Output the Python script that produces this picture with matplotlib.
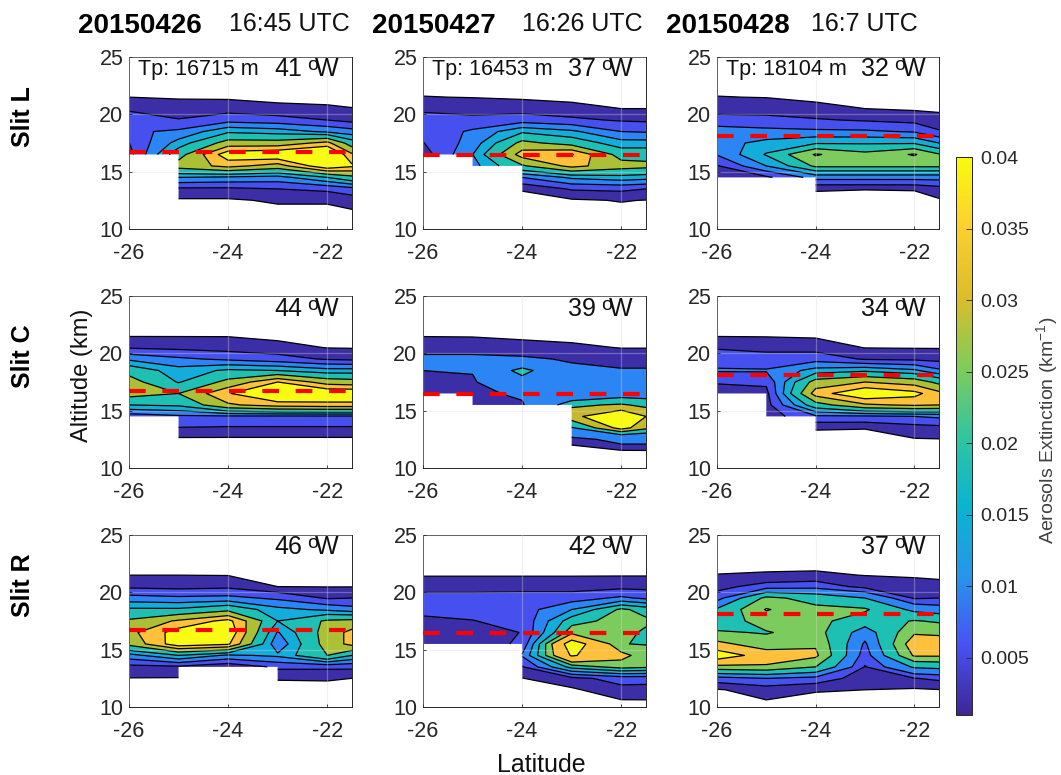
import numpy as np
import matplotlib
matplotlib.use('Agg')
import matplotlib.pyplot as plt
from matplotlib.cm import ScalarMappable
from matplotlib.colors import LinearSegmentedColormap, Normalize

plt.rcParams['font.family'] = ['Liberation Sans', 'DejaVu Sans']
plt.rcParams['mathtext.fontset'] = 'custom'
plt.rcParams['mathtext.rm'] = 'Liberation Sans'

n = np.nan
lats = [-26, -25, -24, -23, -22, -21.5]
alts = [22.5, 21.5, 20.5, 19.5, 18.5, 17.5, 16.5, 15.5, 14.5, 13.5, 12.5, 11.5, 10.5]

# extinction in 1e-3 km-1, one line per latitude, altitude going down
slit_l_0426 = [
    [0, 1.0, 4.4, 7, 9, 4.9, 3, n, n, n, n, n, n],
    [0, .7, 2.5, 5.3, 11, 17, 24, 30, 15, 4, .5, 0, 0],
    [0, .5, 3, 8, 19, 30, 44, 36, 14, 4, .5, 0, 0],
    [0, .2, 1.8, 7, 17.5, 30, 46, 31, 13, 5, 1.5, 0, 0],
    [0, 0, 1.5, 5, 14, 36, 50, 45, 20, 6, 1.5, 0, 0],
    [0, 0, 1.1, 3.5, 12, 23, 35, 41, 25, 8, 2.5, .6, 0],
]
slit_l_0427 = [
    [0, 1.1, 4, 7, 6.5, 4.8, 2.5, n, n, n, n, n, n],
    [0, .9, 3, 6.5, 10.8, 12, 14.9, 13, n, n, n, n, n],
    [0, .5, 3, 7.5, 19, 29, 37, 26, 10, 1.2, .2, 0, 0],
    [0, .2, 2, 6, 16, 24, 40.5, 36, 16, 5.5, .5, 0, 0],
    [0, 0, 1, 4.5, 10, 17, 24, 30, 18, 6, 1.2, 0, 0],
    [0, 0, 1, 4.2, 9.5, 17, 24, 29, 17, 5, .9, 0, 0],
]
slit_l_0428 = [
    [0, 1.1, 3.5, 6.5, 13, 13, 10.3, 4.5, 2.5, n, n, n, n],
    [0, .9, 3, 6.5, 11.5, 16.5, 20.5, 15, 4, n, n, n, n],
    [0, .4, 1.8, 5.5, 11, 19.5, 30.5, 26, 12, 1.2, .3, 0, 0],
    [0, 0, 1, 4.5, 10.8, 19.5, 26.5, 26, 12, 1.1, 0, 0, 0],
    [0, 0, .5, 3.5, 9.5, 19.5, 30.5, 26, 12, 1.2, 0, 0, 0],
    [0, 0, .4, 2.2, 5.5, 15, 25.5, 26, 12, 3, .6, 0, 0],
]
slit_c_0426 = [
    [0, .9, 4.5, 14, 24.5, 30, 30, 20, 7, n, n, n, n],
    [0, .9, 3.8, 11, 17, 19.5, 27, 21, 9, 4.8, .3, 0, 0],
    [0, .9, 3, 9, 21, 29, 39.5, 33, 9, 4.5, .3, 0, 0],
    [0, .2, 2.2, 7, 20, 40, 48, 37, 9, 4.5, .3, 0, 0],
    [0, 0, .9, 4.5, 17, 31, 46, 38, 9, 4.5, .3, 0, 0],
    [0, 0, .8, 4, 17, 30, 46, 38, 9, 4.5, .3, 0, 0],
]
slit_c_0427 = [
    [0, .9, 3.5, 6, 5, 3, .95, n, n, n, n, n, n],
    [0, .8, 3.5, 6, 5.5, 4, 3, 2, n, n, n, n, n],
    [0, .3, 2.5, 5.8, 24, 15, 6.5, 4, n, n, n, n, n],
    [0, .2, 1.6, 4.5, 6, 7, 9, 26.5, 33, 19, 2, 0, n],
    [0, 0, .9, 3, 5.5, 8, 15, 29, 42, 38, 8, .7, 0],
    [0, 0, .9, 3, 5.5, 8, 15, 26, 35, 30, 8, .8, 0],
]
slit_c_0428 = [
    [0, .9, 4.5, 8, 10.5, 5.5, 2.5, n, n, n, n, n, n],
    [0, .8, 4, 6.5, 10.5, 6, 3.5, 3, 2.5, n, n, n, n],
    [0, .6, 3, 8, 17, 30, 37, 24, 9, 1.2, .2, 0, 0],
    [0, .2, .9, 4.5, 19, 34, 46, 33, 9, 1.1, .2, 0, 0],
    [0, 0, .8, 4, 16, 31, 42, 35, 10, 3, .8, 0, 0],
    [0, 0, .8, 3.5, 11, 25, 36, 34, 11, 3.5, .9, 0, 0],
]
slit_r_0426 = [
    [0, 1.0, 4, 12, 21, 28, 32, 29, 13, 3.5, .9, 0, 0],
    [0, 1.0, 3.5, 11, 21, 35, 43, 44, 20, 4, .8, 0, 0],
    [0, .9, 4, 11.5, 25, 42, 45, 41, 14, 1.2, n, n, n],
    [0, .1, 1, 9, 16.5, 20, 14.5, 11, 16, 6, 1.2, 0, 0],
    [0, 0, .9, 4.5, 14, 28, 30, 30, 27, 6, 1.3, 0, 0],
    [0, 0, .9, 5, 12, 29, 36, 36, 20, 6, 1, 0, 0],
]
slit_r_0427 = [
    [0, .8, 3, 7, 6, 4.2, 3, 2, n, n, n, n, n],
    [0, .8, 3, 7, 6, 4.9, 3.5, 2, n, n, n, n, n],
    [0, .8, 3, 7.5, 7.5, 6, 5.1, 6, 10.5, 4.5, .9, 0, 0],
    [0, .8, 3, 7.5, 15, 23, 28, 46, 41, 22, 3.5, .4, 0],
    [0, .8, 3.5, 11, 26, 27, 27, 25.1, 32, 27, 7, 3.5, .6],
    [0, .8, 3.5, 9, 23, 26, 24, 24.8, 27, 26, 7, 3.2, .7],
]
slit_r_0428 = [
    [0, 1.1, 3.5, 7.5, 18, 21, 25.8, 34, 45, 30, 7.5, .7, 0],
    [0, 1.4, 7, 27, 32.5, 28, 24.5, 28, 36, 31, 10, 2.5, .8],
    [0, 1.6, 8, 22, 27, 27, 28, 31, 33.5, 25, 8, 1.2, .3],
    [0, .9, 3.5, 17, 26, 21, 13, 9, 7, 4.7, 2.5, 1, 0],
    [0, .6, 2.4, 4.4, 15, 25.5, 31, 37, 33, 18, 4.8, .5, 0],
    [0, .4, 2, 5, 13, 24, 30.5, 36, 33, 19, 6, .9, 0],
]

INDIGO, BLUE, AZURE, CYAN = '#3b2ea6', '#4650ee', '#2c85f5', '#14addb'
TEAL, GREEN, OLIVE, GOLD = '#1fc0b4', '#7ccb5e', '#acc036', '#c8b82e'
ORANGE, YELLOW = '#ffc03a', '#f9fb15'

levels_std = [1, 5, 10, 15, 20, 27, 34, 40]
colors_std = [INDIGO, BLUE, AZURE, CYAN, TEAL, OLIVE, ORANGE, YELLOW]
levels_green = [1, 5, 10, 15, 20, 25, 30, 40]
colors_green = [INDIGO, BLUE, AZURE, CYAN, TEAL, GREEN, ORANGE, YELLOW]
levels_c2 = [1, 5, 20, 28, 35]
colors_c2 = [INDIGO, AZURE, TEAL, GOLD, YELLOW]
levels_r3 = [1, 5, 10, 17, 25, 32, 40]
colors_r3 = [INDIGO, BLUE, AZURE, TEAL, GREEN, ORANGE, YELLOW]

grids = [slit_l_0426, slit_l_0427, slit_l_0428,
         slit_c_0426, slit_c_0427, slit_c_0428,
         slit_r_0426, slit_r_0427, slit_r_0428]
panel_levels = [levels_std, levels_std, levels_green,
                levels_std, levels_c2, levels_std,
                levels_std, levels_green, levels_r3]
panel_colors = [colors_std, colors_std, colors_green,
                colors_std, colors_c2, colors_std,
                colors_std, colors_green, colors_r3]
longitudes = ['41', '37', '32', '44', '39', '34', '46', '42', '37']
tropopause = [16.715, 16.453, 18.104]
tp_labels = ['Tp: 16715 m', 'Tp: 16453 m', 'Tp: 18104 m']
dates = ['20150426', '20150427', '20150428']
times = ['16:45 UTC', '16:26 UTC', '16:7 UTC']
slits = ['Slit L', 'Slit C', 'Slit R']

parula = ['#3e2695', '#4852f4', '#2796eb', '#08b5d0', '#31c69f',
          '#80cc59', '#dcbd28', '#fccf30', '#f9fb0e']
cbar_ticks = [0.005, 0.01, 0.015, 0.02, 0.025, 0.03, 0.035, 0.04]
cbar_ticklabels = ['0.005', '0.01', '0.015', '0.02', '0.025', '0.03', '0.035', '0.04']

W, H = 1061, 775
fig = plt.figure(figsize=(W / 100, H / 100), dpi=100)


def px_axes(left, top, right, bottom):
    return fig.add_axes([left / W, 1 - bottom / H, (right - left) / W, (bottom - top) / H])


def px_text(x, y, s, **kw):
    kw.setdefault('color', '#111111')
    kw.setdefault('va', 'center')
    kw.setdefault('ha', 'center')
    return fig.text(x / W, 1 - y / H, s, **kw)


col_px = [(129, 352), (423, 646), (717, 939)]
row_px = [(57, 229), (296, 468), (535, 707)]
INK = '#262626'

for i, grid in enumerate(grids):
    row, col = divmod(i, 3)
    left, right = col_px[col]
    top, bottom = row_px[row]
    ax = px_axes(left, top, right, bottom)
    z = np.ma.masked_invalid(np.array(grid, dtype=float).T)
    lev = panel_levels[i]
    ax.contourf(lats, alts, z, levels=lev + [100], colors=panel_colors[i],
                antialiased=True, corner_mask=False)
    ax.contour(lats, alts, z, levels=lev, colors='black', linewidths=0.9, corner_mask=False)
    ax.plot([lats[0], lats[-1]], [tropopause[col]] * 2, color='red', lw=3,
            ls=(0, (4, 4)), dash_capstyle='butt', zorder=5)
    ax.set_xlim(-26, -21.5)
    ax.set_ylim(10, 25)
    ax.set_xticks([-26, -24, -22])
    ax.set_xticklabels(['-26', '-24', '-22'])
    ax.set_yticks([10, 15, 20, 25])
    ax.tick_params(direction='in', length=2.5, width=0.6, labelsize=15.5, colors=INK, pad=4)
    ax.tick_params(axis='x', pad=10)
    ax.grid(True, color='#d8d8d8', lw=0.9, alpha=0.35)
    ax.set_axisbelow(False)
    for s in ax.spines.values():
        s.set_linewidth(0.7)
        s.set_color(INK)
    # the longitude label: number, small raised o, then W running into it
    px_text(right - 50, top + 12.5, longitudes[i], ha='right', fontsize=18, zorder=6)
    px_text(right - 39, top + 9, 'o', fontsize=14, zorder=6)
    px_text(right - 13, top + 12.5, 'W', ha='right', fontsize=18, zorder=6)
    if row == 0:
        px_text(left + 9, top + 13, tp_labels[col], ha='left', fontsize=15.5, zorder=6)

title_x = [(140, 289), (434, 582), (728, 864)]
for j in range(3):
    px_text(title_x[j][0], 26, dates[j], fontsize=20, fontweight='bold', color='black')
    px_text(title_x[j][1], 24, times[j], fontsize=18)

for j, y in enumerate([117, 356, 585]):
    px_text(23, y, slits[j], rotation=90, fontsize=18, fontweight='bold', color='black')

px_text(82, 375, 'Altitude (km)', rotation=90, fontsize=17)
px_text(541, 765, 'Latitude', fontsize=18)

cax = px_axes(956, 157, 972, 715)
cmap = LinearSegmentedColormap.from_list('parula_like', parula)
cb = fig.colorbar(ScalarMappable(Normalize(0.001, 0.04), cmap), cax=cax)
cb.set_ticks(cbar_ticks)
cb.set_ticklabels(cbar_ticklabels)
cb.ax.tick_params(direction='in', length=4, width=0.6, labelsize=14, colors=INK, pad=6)
cb.outline.set_linewidth(0.7)
cb.outline.set_edgecolor(INK)
px_text(1048, 430, r'Aerosols Extinction (km$^{-1}$)', rotation=90, fontsize=14, color='#404040')

fig.savefig('out.png', dpi=100)
